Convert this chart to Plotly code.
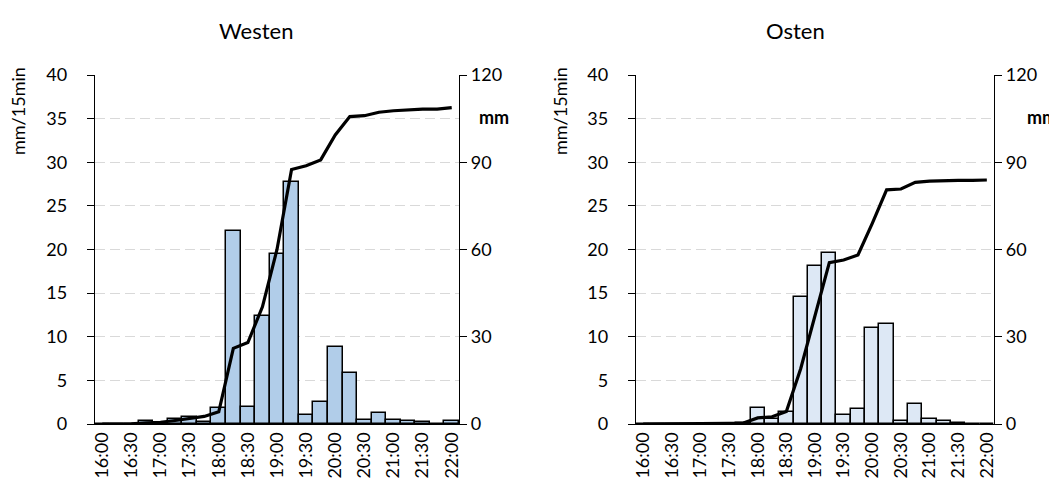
import plotly.graph_objects as go

times = ["16:00", "16:15", "16:30", "16:45", "17:00", "17:15", "17:30", "17:45",
         "18:00", "18:15", "18:30", "18:45", "19:00", "19:15", "19:30", "19:45",
         "20:00", "20:15", "20:30", "20:45", "21:00", "21:15", "21:30", "21:45", "22:00"]
tick_labels = ["16:00", "16:30", "17:00", "17:30", "18:00", "18:30", "19:00",
               "19:30", "20:00", "20:30", "21:00", "21:30", "22:00"]

west_rate = [0, 0, 0.05, 0.4, 0.1, 0.6, 0.85, 0.2, 1.8, 22.1, 2.0, 12.4, 19.5, 27.7,
             1.0, 2.55, 8.85, 5.8, 0.45, 1.3, 0.45, 0.35, 0.2, 0.0, 0.35]
west_sum = [0, 0, 0.05, 0.4, 0.6, 1.2, 1.9, 2.6, 4.2, 26.0, 28.0, 40.3, 60.0, 87.5,
            88.8, 90.8, 99.4, 105.7, 106.0, 107.2, 107.7, 108.1, 108.3, 108.3, 108.8]

east_rate = [0, 0, 0.05, 0.05, 0.05, 0.05, 0.05, 0.1, 1.8, 0.6, 1.4, 14.5, 18.1, 19.55,
             1.0, 1.75, 10.95, 11.45, 0.4, 2.3, 0.55, 0.35, 0.1, 0.0, 0.0]
east_sum = [0, 0, 0.05, 0.1, 0.15, 0.2, 0.25, 0.35, 2.1, 2.5, 4.3, 19.0, 37.0, 55.5,
            56.4, 58.1, 69.0, 80.5, 80.8, 83.1, 83.5, 83.7, 83.8, 83.8, 83.9]

titles = ["Westen", "Osten"]
rate_axis_title = "mm/15min"
sum_axis_title = "mm"

W, H = 1057, 487
OFF = 8  # default page body margin
FONT = "Lato"

def fx(px):
    return (px - OFF) / W

def fy(py):
    return 1 - (py - OFF) / H

fig = go.Figure()

fig.add_trace(go.Bar(x=times, y=west_rate, xaxis="x", yaxis="y",
                     marker=dict(color="#B1CDE9", line=dict(color="black", width=1.5)),
                     showlegend=False))
fig.add_trace(go.Scatter(x=times, y=west_sum, xaxis="x", yaxis="y2", mode="lines",
                         line=dict(color="black", width=3.2), showlegend=False))
fig.add_trace(go.Bar(x=times, y=east_rate, xaxis="x2", yaxis="y3",
                     marker=dict(color="#DDE8F5", line=dict(color="black", width=1.5)),
                     showlegend=False))
fig.add_trace(go.Scatter(x=times, y=east_sum, xaxis="x2", yaxis="y4", mode="lines",
                         line=dict(color="black", width=3.2), showlegend=False))

ydom = [fy(424), fy(75)]
xdom1 = [fx(95), fx(459)]
xdom2 = [fx(636), fx(994)]

tickfont = dict(family=FONT, size=18, color="black")

def xaxis(dom, anchor):
    return dict(domain=dom, anchor=anchor, type="category", categoryorder="array",
                categoryarray=times, tickmode="array", tickvals=tick_labels,
                ticktext=tick_labels, tickangle=-90, tickfont=tickfont,
                showline=True, linecolor="black", linewidth=1.3, ticks="",
                showgrid=False, zeroline=False, range=[-0.5, len(times) - 0.5],
                automargin=False)

def yleft(dom_anchor):
    return dict(domain=ydom, anchor=dom_anchor, range=[0, 40], dtick=5,
                tickfont=tickfont, showline=True, linecolor="black", linewidth=1.3,
                ticks="outside", ticklen=7, tickcolor="black", tickwidth=1.3,
                ticklabelstandoff=16,
                showgrid=True, gridcolor="#D9D9D9", griddash="10px,5px", gridwidth=1.3,
                zeroline=False, automargin=False)

def yright(overlay, anchor):
    return dict(overlaying=overlay, anchor=anchor, side="right", range=[0, 120],
                dtick=30, tickfont=tickfont, showline=True, linecolor="black",
                linewidth=1.3, ticks="outside", ticklen=7, tickcolor="black",
                tickwidth=1.3, showgrid=False, zeroline=False, automargin=False)

fig.update_layout(
    width=W, height=H,
    margin=dict(l=0, r=0, t=0, b=0, autoexpand=False),
    paper_bgcolor="white", plot_bgcolor="white",
    bargap=0,
    xaxis=xaxis(xdom1, "y"),
    xaxis2=xaxis(xdom2, "y3"),
    yaxis=yleft("x"),
    yaxis2=yright("y", "x"),
    yaxis3=yleft("x2"),
    yaxis4=yright("y3", "x2"),
)

ann = []
for cx, t in zip([256, 795], titles):
    ann.append(dict(x=fx(cx), y=fy(30), xref="paper", yref="paper", text=t,
                    showarrow=False, font=dict(family=FONT, size=22, color="black"),
                    xanchor="center", yanchor="middle"))
for cx in [18, 560]:
    ann.append(dict(x=fx(cx), y=fy(111), xref="paper", yref="paper",
                    text=rate_axis_title, textangle=-90, showarrow=False,
                    font=dict(family=FONT, size=18, color="black"),
                    xanchor="center", yanchor="middle"))
for lx in [477, 1025]:
    ann.append(dict(x=fx(lx), y=fy(117), xref="paper", yref="paper",
                    text="<b>" + sum_axis_title + "</b>", showarrow=False,
                    font=dict(family=FONT, size=18, color="black"),
                    xanchor="left", yanchor="middle"))
fig.update_layout(annotations=ann)

fig.write_html("out.html")
